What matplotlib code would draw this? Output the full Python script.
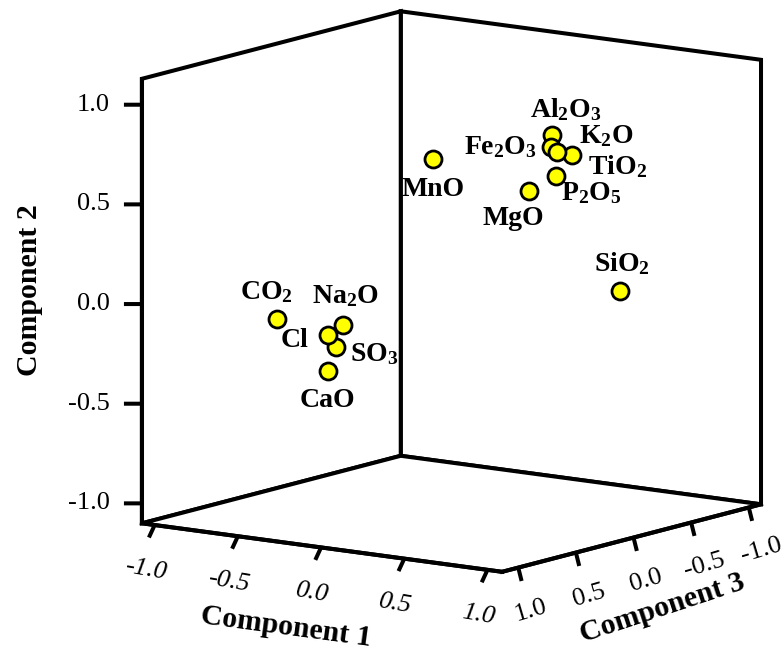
import numpy as np
import matplotlib
matplotlib.use('Agg')
import matplotlib.pyplot as plt
from matplotlib.transforms import offset_copy

plt.rcParams['font.family'] = 'Liberation Serif'
plt.rcParams['mathtext.fontset'] = 'custom'
plt.rcParams['mathtext.rm'] = 'Liberation Serif:bold'
plt.rcParams['mathtext.it'] = 'Liberation Serif:bold'
plt.rcParams['mathtext.bf'] = 'Liberation Serif:bold'
plt.rcParams['axes.unicode_minus'] = False

# component loadings
oxides = ['Al2O3', 'Fe2O3', 'K2O', 'TiO2', 'P2O5', 'MgO', 'MnO', 'SiO2',
          'CO2', 'Na2O', 'Cl', 'SO3', 'CaO']
comp1 = [0.46, 0.49, 0.56, 0.51, 0.55, 0.53, 0.09, 0.80,
         -0.71, -0.45, -0.54, -0.56, -0.68]
comp2 = [0.82, 0.77, 0.76, 0.71, 0.64, 0.59, 0.73, 0.06,
         -0.13, -0.16, -0.22, -0.30, -0.45]
comp3 = [-0.20, -0.15, -0.10, -0.30, -0.10, 0.10, 0.30, -0.30,
         0.50, 0.30, 0.30, 0.20, 0.10]

tick_vals = [-1.0, -0.5, 0.0, 0.5, 1.0]
tick_text = ['-1.0', '-0.5', '0.0', '0.5', '1.0']

# pretty names and label offsets (pixels, right / down)
pretty = {
    'Al2O3': r'Al$_2$O$_3$', 'Fe2O3': r'Fe$_2$O$_3$', 'K2O': r'K$_2$O',
    'TiO2': r'TiO$_2$', 'P2O5': r'P$_2$O$_5$', 'MgO': 'MgO', 'MnO': 'MnO',
    'SiO2': r'SiO$_2$', 'CO2': r'CO$_2$', 'Na2O': r'Na$_2$O', 'Cl': 'Cl',
    'SO3': r'SO$_3$', 'CaO': 'CaO',
}
offsets = {
    'Al2O3': (14, -25), 'Fe2O3': (-51, 0), 'K2O': (49, -16), 'TiO2': (46, 12),
    'P2O5': (36, 17), 'MgO': (-16, 27), 'MnO': (0, 30), 'SiO2': (2, -27),
    'CO2': (-10, -27), 'Na2O': (2, -29), 'Cl': (-33, 6), 'SO3': (38, 7),
    'CaO': (0, 29),
}

# axis ranges: x = component 3, y = component 1, z = component 2
xlim = (-1.106, 1.14)
ylim = (-1.077, 1.088)
zlim = (-1.10, 1.13)

fig = plt.figure(figsize=(7.82, 6.53), dpi=100)
ax = fig.add_axes([0.066, 0.040, 1, 1], projection='3d', proj_type='ortho')
ax.view_init(elev=10.8, azim=35.7)
ax.set_box_aspect((1, 1, 1.02), zoom=1.15)

ax.scatter(comp3, comp1, comp2, s=150, c='#ffff00', edgecolors='k',
           linewidths=2.0, depthshade=False, alpha=1)


def shifted(dx, dy):
    return offset_copy(ax.transData, fig=fig, x=dx, y=-dy, units='dots')


for name, x, y, z in zip(oxides, comp3, comp1, comp2):
    dx, dy = offsets[name]
    ax.text(x, y, z, pretty[name], transform=shifted(dx, dy),
            ha='center', va='center', fontsize=20, fontweight='bold')

ax.set_xlim(*xlim, view_margin=0)
ax.set_ylim(*ylim, view_margin=0)
ax.set_zlim(*zlim, view_margin=0)

# tick stubs pointing out of the box, with their labels
tick_kw = dict(color='k', lw=2.9, solid_capstyle='butt')
for v, s in zip(tick_vals, tick_text):
    ax.plot([xlim[1], xlim[1] + 0.05], [v, v], [zlim[0], zlim[0] - 0.055], **tick_kw)
    ax.plot([v, v], [ylim[1], ylim[1] + 0.02], [zlim[0], zlim[0] - 0.065], **tick_kw)
    ax.plot([xlim[1], xlim[1] + 0.053], [ylim[0], ylim[0] - 0.071], [v, v], **tick_kw)

    ax.text(xlim[1], v, zlim[0], s, zdir=(0, 1, -0.03), transform=shifted(-9, 45),
            ha='center', va='center', fontsize=19, fontstyle='italic')
    ax.text(v, ylim[1], zlim[0], s, zdir=(-1, 0, 0.02), transform=shifted(13, 43),
            ha='center', va='center', fontsize=19)
    ax.text(xlim[1], ylim[0], v, s, transform=shifted(-32, 0),
            ha='right', va='center', fontsize=19)

ax.set_xticks([])
ax.set_yticks([])
ax.set_zticks([])

# axis titles
ax.text(xlim[1], 0.0, zlim[0], 'Component 1', zdir=(0, 1, 0), transform=shifted(-35, 80),
        ha='center', va='center', fontsize=21.5, fontweight='bold')
ax.text(0.0, ylim[1], zlim[0], 'Component 3', zdir=(-1, 0, 0.04), transform=shifted(29, 71),
        ha='center', va='center', fontsize=21.5, fontweight='bold')
fig.text(30 / 782, 1 - 290 / 653, 'Component 2', rotation=90, ha='center',
         va='center', fontsize=21.5, fontweight='bold')

ax.grid(False)
for axis in (ax.xaxis, ax.yaxis, ax.zaxis):
    axis.set_pane_color((1, 1, 1, 1))
    axis.pane.set_edgecolor('k')
    axis.pane.set_linewidth(2.9)
    axis.pane.set_closed(True)
    axis.line.set_linewidth(2.9)

fig.savefig('out.png', dpi=100)
